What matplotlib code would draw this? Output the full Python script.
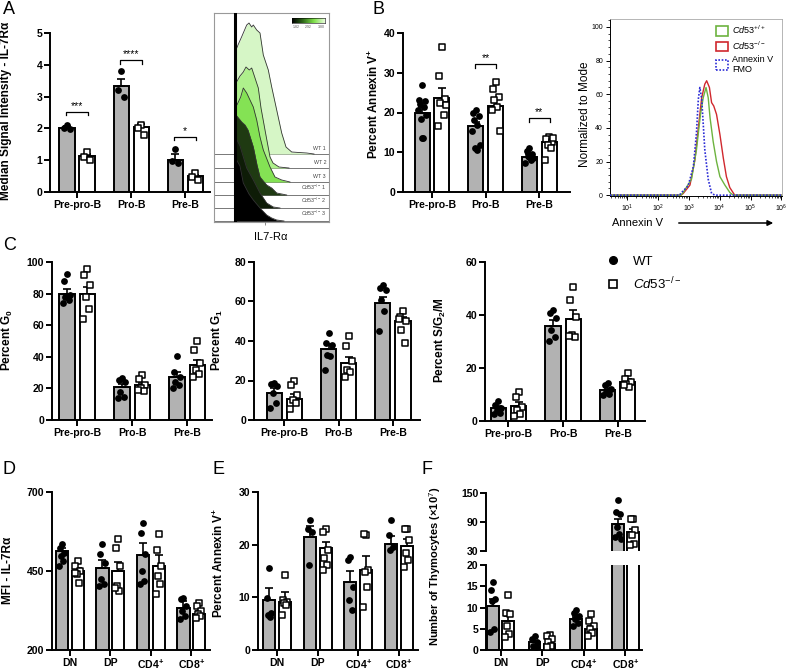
import matplotlib
matplotlib.use('Agg')
import matplotlib.pyplot as plt
import numpy as np
from matplotlib.lines import Line2D
from matplotlib.patches import Patch
from matplotlib.ticker import MultipleLocator, LogLocator, NullFormatter

plt.rcParams['font.family'] = ['Liberation Sans', 'DejaVu Sans']
plt.rcParams['mathtext.fontset'] = 'custom'
plt.rcParams['mathtext.rm'] = 'Liberation Sans'
plt.rcParams['mathtext.it'] = 'Liberation Sans:italic'
plt.rcParams['mathtext.bf'] = 'Liberation Sans:bold'

# ---------------- data ----------------
b_cells = ['Pre-pro-B', 'Pro-B', 'Pre-B']
t_cells = ['DN', 'DP', r'CD4$^{\mathbf{+}}$', r'CD8$^{\mathbf{+}}$']

# A: median signal intensity IL-7Ra
a_wt_mean = [2.02, 3.32, 1.02]
a_wt_sem = [0.04, 0.23, 0.19]
a_ko_mean = [1.13, 2.05, 0.49]
a_ko_sem = [0.07, 0.09, 0.06]
a_wt_pts = [[2.1, 2.0, 1.97], [3.82, 3.2, 3.0], [1.34, 0.97, 0.9]]
a_ko_pts = [[1.26, 1.1, 1.02], [2.1, 2.0, 1.79], [0.61, 0.47, 0.39]]
a_sig = [(0, '***', 2.53), (1, '****', 4.16), (2, '*', 1.74)]

# A: IL7-Ra histograms (x in channel units, heights)
h_names = ['WT 1', 'WT 2', 'WT 3', r'$\mathit{Cd53}^{-/-}$ 1', r'$\mathit{Cd53}^{-/-}$ 2', r'$\mathit{Cd53}^{-/-}$ 3']
h_colors = ['#d6f6c6', '#aef08c', '#84e254', '#1f3a12', '#0e1c07', '#000000']
h_x = [
    [21, 22, 24, 28, 32.7, 35, 37.7, 39.3, 42.7, 46, 49.3, 54.3, 57.7, 62.7, 67.7, 72, 77.7, 85, 92.7, 100],
    [21, 22, 26, 29.3, 32, 35.3, 37.7, 41, 44.3, 47, 51, 56, 59, 65, 75],
    [21, 22, 26.7, 29.3, 32.7, 36, 39.3, 42.7, 46, 49.3, 56, 61, 67.7, 76],
    [21, 22, 27.7, 31, 34, 39.3, 43, 46, 52.7, 57.7, 62.7, 72.7],
    [21, 22, 26, 32.7, 39.3, 46, 52.7, 59.3, 66],
    [21, 22, 26, 29.3, 35, 39.3, 46, 52.7, 57.7, 62.7, 70],
]
h_y = [
    [0, 104, 109, 118, 129, 131, 127, 129, 124, 121, 99, 84, 67, 44, 21, 7, 2, 1.5, 1, 0],
    [0, 85, 92, 96, 101, 98, 100, 90, 80, 60, 38, 11, 5, 1, 0],
    [0, 75, 85, 94, 89, 82, 75, 62, 45, 32, 15, 5, 2, 0],
    [0, 80, 73, 70, 65, 48, 30, 18, 10, 7, 2, 0],
    [0, 70, 62, 40, 28, 15, 5, 1, 0],
    [0, 62, 55, 38, 27, 21, 13, 6, 3, 1, 0],
]
h_base = [68, 54, 40, 27, 14, 1]

# B: percent Annexin V+
b_wt_mean = [19.9, 16.5, 8.8]
b_wt_sem = [1.6, 1.2, 0.7]
b_ko_mean = [23.6, 21.7, 12.5]
b_ko_sem = [2.5, 1.7, 0.8]
b_wt_pts = [[27, 23.2, 23, 22.2, 21.4, 20.7, 19.4, 18.4, 13.6, 13.6],
            [20.7, 19.9, 19, 18, 16.9, 15.3, 11.9, 11.1, 10.5],
            [11.1, 10.2, 9.6, 9, 8.1, 7.3, 8.5, 8.8]]
b_ko_pts = [[36.6, 29.3, 23.4, 22.4, 19.4, 16.7, 21.8],
            [27.6, 25.9, 23.8, 23.2, 21.5, 20.7, 15.3],
            [13.8, 13.3, 12.5, 11.9, 11.1, 8.0, 13.6]]
b_sig = [(1, '**', 32.2), (2, '**', 18.6)]

# B: Annexin V histograms (log10 fluorescence, normalized to mode)
an_fmo_x = [0.45, 2.7, 2.77, 2.98, 3.15, 3.25, 3.31, 3.36, 3.42, 3.52, 3.63, 3.74, 3.85, 6.1]
an_fmo_y = [0, 0, 1.6, 5.5, 17, 37, 57, 64, 57, 27, 9.5, 1, 0, 0]
an_wt_x = [0.45, 2.75, 2.82, 3.09, 3.25, 3.38, 3.47, 3.56, 3.63, 3.69, 3.79, 3.90, 4.01, 4.17, 4.33, 4.44, 6.1]
an_wt_y = [0, 0, 1.6, 9.5, 27, 48, 58, 64, 58, 46, 32, 20, 11, 6, 1.6, 0, 0]
an_ko_x = [0.45, 2.75, 2.82, 3.04, 3.20, 3.31, 3.42, 3.52, 3.58, 3.67, 3.74, 3.81, 3.90, 4.01, 4.12, 4.22, 4.33, 4.49, 6.1]
an_ko_y = [0, 0, 1, 6, 21, 40, 58, 66, 68, 64, 55, 53, 48, 36, 22, 11, 4.5, 0, 0]

# C: cell cycle
c_labels = [r'Percent G$_{\mathbf{0}}$', r'Percent G$_{\mathbf{1}}$', r'Percent S/G$_{\mathbf{2}}$/M']
c_wt_mean = [[79.6, 20.6, 27.0], [13.6, 36.1, 59.2], [4.8, 35.8, 11.8]]
c_wt_sem = [[3.6, 2.2, 3.3], [2.4, 2.6, 3.0], [0.8, 2.3, 0.8]]
c_ko_mean = [[80.0, 22.1, 34.7], [10.8, 28.9, 49.9], [5.7, 38.4, 14.7]]
c_ko_sem = [[4.2, 1.6, 3.4], [2.4, 3.2, 2.5], [1.5, 3.3, 1.0]]
c_wt_pts = [
    [[92.6, 87.8, 79.0, 77.9, 76.2, 74.1], [26.3, 25.3, 24.0, 17.9, 14.7, 13.7], [40.4, 30.5, 27.4, 24.2, 22.1, 20.0]],
    [[18.9, 18.0, 17.2, 13.5, 8.5, 6.0], [44.0, 39.0, 38.2, 33.1, 32.3, 25.2], [68.4, 66.7, 65.9, 60.8, 55.0, 45.2]],
    [[7.5, 6.0, 5.0, 4.0, 3.0, 2.5], [41.9, 40.9, 38.7, 34.3, 31.8, 30.3], [14.3, 13.4, 12.2, 10.9, 10.3, 10.0]],
]
c_ko_pts = [
    [[95.8, 91.6, 85.3, 77.9, 70.5, 64.2], [28.4, 25.7, 22.1, 20.0, 18.5, 19.0], [50.3, 44.0, 36.2, 31.6, 29.0, 27.4]],
    [[19.8, 17.5, 12.5, 10.0, 8.4, 5.8], [42.4, 37.3, 29.7, 25.5, 24.4, 21.8], [55.3, 52.4, 49.9, 45.7, 39.0, 51.0]],
    [[11.0, 9.2, 5.4, 4.0, 2.5, 2.0], [50.5, 45.7, 39.4, 32.4, 31.8, 32.0], [18.1, 15.9, 14.7, 14.1, 12.8, 13.5]],
]
c_ylim = [100, 80, 60]
c_step = [20, 20, 20]

# D: MFI IL-7Ra thymocytes
d_wt_mean = [513, 458, 500, 334]
d_wt_sem = [11, 28, 40, 22]
d_ko_mean = [450, 450, 466, 313]
d_ko_sem = [10, 28, 34, 10]
d_wt_pts = [[534, 524, 508, 497, 482, 466], [534, 503, 476, 424, 408, 403],
            [603, 571, 503, 450, 418, 408], [366, 361, 339, 324, 308, 297]]
d_ko_pts = [[482, 466, 450, 440, 413, 445], [550, 524, 466, 403, 387, 397],
            [566, 518, 466, 434, 408, 376], [350, 339, 324, 313, 308, 300]]

# E: percent Annexin V+ thymocytes
e_wt_mean = [9.5, 21.5, 13.0, 20.2]
e_wt_sem = [2.2, 2.0, 2.0, 1.5]
e_ko_mean = [9.2, 19.3, 15.2, 19.7]
e_ko_sem = [1.8, 1.2, 2.6, 1.3]
e_wt_pts = [[15.5, 9.8, 7.0, 6.6, 6.3], [24.7, 23.0, 22.5, 16.1],
            [17.7, 17.0, 12.0, 9.5, 7.6], [24.7, 21.8, 19.6, 19.0]]
e_ko_pts = [[14.2, 9.5, 9.2, 8.9, 8.5, 6.6], [23.0, 22.5, 19.0, 17.4, 16.1, 15.2],
            [21.8, 22.1, 15.2, 14.9, 12.0, 8.2], [23.0, 23.0, 20.9, 18.4, 17.1, 15.8]]

# F: number of thymocytes (x10^7)
f_wt_mean = [10.3, 1.8, 7.2, 86.5]
f_wt_sem = [1.8, 0.4, 0.6, 10.0]
f_ko_mean = [6.8, 1.4, 4.9, 69.0]
f_ko_sem = [1.2, 0.4, 0.8, 7.0]
f_wt_pts = [[16.1, 14.2, 11.9, 11.5, 4.9, 4.3], [3.3, 2.6, 1.8, 1.0, 0.6],
            [9.5, 8.8, 8.0, 7.2, 6.4, 5.7], [136, 110, 107, 80, 66, 59, 55]]
f_ko_pts = [[12.9, 8.8, 8.4, 5.7, 3.7, 3.0], [3.5, 3.2, 2.6, 1.8, 1.0, 0.6],
            [8.4, 6.8, 5.7, 4.9, 4.1, 3.3], [95.5, 95.5, 72.8, 62.4, 45.0, 41.7]]

# ---------------- figure ----------------
W, H = 789, 672
fig = plt.figure(figsize=(W / 100, H / 100), dpi=100)
spread = np.array([0, -0.055, 0.055, -0.03, 0.03, -0.075, 0.075, -0.015, 0.015, 0.0])
GRAY = '#b2b2b2'
TICK_FS = 7.6
LAB_FS = 8.5


def px_axes(x0, y0, x1, y1):
    return fig.add_axes([x0 / W, 1 - y1 / H, (x1 - x0) / W, (y1 - y0) / H])


def ftext(x, y, s, **kw):
    fig.text(x / W, 1 - y / H, s, **kw)


def bars(ax, wt_mean, wt_sem, ko_mean, ko_sem, wt_pts, ko_pts, off, width, base=0):
    x = np.arange(len(wt_mean))
    for sign, mean, sem, pts, face in [(-1, wt_mean, wt_sem, wt_pts, GRAY),
                                        (1, ko_mean, ko_sem, ko_pts, 'white')]:
        xs = x + sign * off
        mean = np.array(mean)
        ax.bar(xs, mean - base, width, bottom=base, color=face, edgecolor='black',
               linewidth=1.4, zorder=1)
        ax.errorbar(xs, mean, yerr=[np.zeros(len(sem)), sem], fmt='none', ecolor='black',
                    elinewidth=1.2, capsize=3, capthick=1.2, zorder=2)
        for i, p in enumerate(pts):
            jx = xs[i] + spread[:len(p)]
            if face == GRAY:
                ax.scatter(jx, p, s=24, c='black', marker='o', linewidths=0, zorder=3)
            else:
                ax.scatter(jx, p, s=24, marker='s', facecolors='white', edgecolors='black',
                           linewidths=1.1, zorder=3)


def style(ax, groups, ylim, yticks, xlim):
    for s in ['top', 'right']:
        ax.spines[s].set_visible(False)
    for s in ['left', 'bottom']:
        ax.spines[s].set_linewidth(1.4)
    ax.set_ylim(ylim)
    ax.set_yticks(yticks)
    ax.set_xlim(xlim)
    ax.set_xticks(range(len(groups)))
    ax.set_xticklabels(groups)
    ax.tick_params(width=1.4, length=4, labelsize=TICK_FS, pad=1.5)
    for lbl in ax.get_xticklabels() + ax.get_yticklabels():
        lbl.set_fontweight('bold')


def ylab(ax, text, box, xpx, ypx=None, fs=LAB_FS):
    x0, y0, x1, y1 = box
    if ypx is None:
        ypx = (y0 + y1) / 2
    ax.set_ylabel(text, fontsize=fs, fontweight='bold')
    ax.yaxis.set_label_coords((xpx - x0) / (x1 - x0), (y1 - ypx) / (y1 - y0))


def sig(ax, items, off, tick):
    for g, txt, y in items:
        ax.plot([g - off, g - off, g + off, g + off], [y - tick, y, y, y - tick],
                color='black', lw=0.9)
        ax.text(g, y + tick * 0.2, txt, ha='center', va='bottom', fontsize=7.5)


# ---- panel A bars ----
boxA = (50, 33, 210, 192)
axA = px_axes(*boxA)
bars(axA, a_wt_mean, a_wt_sem, a_ko_mean, a_ko_sem, a_wt_pts, a_ko_pts, 0.185, 0.28)
style(axA, b_cells, (0, 5), range(0, 6), (-0.5, 2.46))
sig(axA, a_sig, 0.2, 0.12)
ylab(axA, 'Median Signal Intensity - IL-7R\u03b1', boxA, 12, 111)

# ---- panel A histograms ----
boxAh = (214, 13, 329, 222)
axH = px_axes(*boxAh)
axH.set_xlim(0, 115)
axH.set_ylim(0, 209)
for b in h_base:
    axH.plot([0, 115], [b, b], color='#777777', lw=0.7, zorder=1)
for i in range(len(h_x)):
    xx = np.array(h_x[i])
    yy = np.array(h_y[i]) + h_base[i]
    axH.fill_between(xx, h_base[i], yy, color=h_colors[i], zorder=2 + i, lw=0)
    axH.plot(xx, yy, color='#333333', lw=0.6, zorder=2 + i)
    axH.text(112, h_base[i] + 3, h_names[i], ha='right', va='bottom', fontsize=3.8,
             color='#444444', zorder=10)
axH.plot([21, 21], [0, 209], color='black', lw=2.2, zorder=9)
axH.set_xticks([])
axH.set_yticks([])
for s in axH.spines.values():
    s.set_color('#999999')
    s.set_linewidth(0.8)
axT = axH.twiny()
axT.set_xscale('log')
axT.set_xlim(10 ** -0.3, 10 ** 4.9)
axT.xaxis.set_ticks_position('bottom')
axT.xaxis.set_major_locator(LogLocator(base=10))
axT.xaxis.set_minor_locator(LogLocator(base=10, subs=np.arange(2, 10)))
axT.xaxis.set_major_formatter(NullFormatter())
axT.xaxis.set_minor_formatter(NullFormatter())
axT.tick_params(which='major', length=2.5, width=0.6, color='#777777')
axT.tick_params(which='minor', length=1.5, width=0.5, color='#777777')
for s in axT.spines.values():
    s.set_visible(False)
axC = px_axes(292, 18, 325, 23)
axC.imshow(np.linspace(0, 1, 64)[None, :], aspect='auto',
           cmap=matplotlib.colors.LinearSegmentedColormap.from_list(
               'g', ['#000000', '#2f6a1a', '#7fe04a', '#e6fcd8']))
axC.set_xticks([])
axC.set_yticks([])
for s in axC.spines.values():
    s.set_linewidth(0.4)
for xp, t in zip([296, 308, 321], ['1.82', '2.92', '3.80']):
    ftext(xp, 28, t, fontsize=2.5, ha='center', color='#555555')
ftext(271, 237, 'IL7-R\u03b1', fontsize=8, ha='center', va='center')

# ---- panel B bars ----
boxB = (403, 33, 570, 192)
axB = px_axes(*boxB)
bars(axB, b_wt_mean, b_wt_sem, b_ko_mean, b_ko_sem, b_wt_pts, b_ko_pts, 0.185, 0.28)
style(axB, b_cells, (0, 40), range(0, 41, 10), (-0.54, 2.57))
sig(axB, b_sig, 0.2, 0.9)
ylab(axB, r'Percent Annexin V$^{\mathbf{+}}$', boxB, 381, 104)

# ---- panel B Annexin V histogram ----
boxBh = (610, 19, 782, 196)
axN = px_axes(*boxBh)
axN.set_xscale('log')
axN.set_xlim(10 ** 0.45, 10 ** 6.02)
axN.set_ylim(-0.5, 104.7)
axN.plot(10 ** np.array(an_wt_x), an_wt_y, color='#6db33f', lw=1.0, zorder=3)
axN.plot(10 ** np.array(an_ko_x), an_ko_y, color='#d0282e', lw=1.0, zorder=2)
axN.plot(10 ** np.array(an_fmo_x), an_fmo_y, color='#2b2bd6', lw=1.2, ls=(0, (1, 1)), zorder=4)
axN.set_yticks(range(0, 101, 20))
axN.yaxis.set_minor_locator(MultipleLocator(4))
axN.set_xticks([10 ** k for k in range(1, 7)])
axN.set_xticklabels([r'$10^{%d}$' % k for k in range(1, 7)])
axN.xaxis.set_minor_locator(LogLocator(base=10, subs=np.arange(2, 10)))
axN.xaxis.set_minor_formatter(NullFormatter())
axN.tick_params(which='major', labelsize=5, length=3, width=0.7, pad=2)
axN.tick_params(which='minor', length=1.5, width=0.5)
for s in ['top', 'right']:
    axN.spines[s].set_color('#aaaaaa')
    axN.spines[s].set_linewidth(0.6)
for s in ['left', 'bottom']:
    axN.spines[s].set_linewidth(0.7)
axN.set_ylabel('Normalized to Mode', fontsize=8.5)
axN.yaxis.set_label_coords((591 - 610) / 172, (196 - 114) / 177)
leg_h = [Patch(facecolor='none', edgecolor='#6db33f', lw=1.2),
         Patch(facecolor='none', edgecolor='#d0282e', lw=1.2),
         Patch(facecolor='none', edgecolor='#2b2bd6', lw=1.2, ls=(0, (1, 1)))]
axN.legend(leg_h, [r'$\mathit{Cd53}^{+/+}$', r'$\mathit{Cd53}^{-/-}$', 'Annexin V\nFMO'],
           loc='upper left', bbox_to_anchor=((712 - 610) / 172, (196 - 20) / 177),
           frameon=False, fontsize=6.5, handlelength=1.4, handleheight=1.3,
           handletextpad=0.4, labelspacing=0.35, borderaxespad=0)
ftext(612, 223, 'Annexin V', fontsize=8, va='center')
fig.add_artist(matplotlib.patches.FancyArrowPatch(
    (676 / W, 1 - 223 / H), (776 / W, 1 - 223 / H), transform=fig.transFigure,
    arrowstyle='-|>', mutation_scale=8, color='black', lw=1.1))

# ---- panel C ----
c_boxes = [(52, 262, 212, 420), (254, 262, 420, 420), (485, 262, 645, 421)]
c_xlims = [(-0.46, 2.45), (-0.56, 2.5), (-0.43, 2.5)]
c_labx = [15, 225, 448]
for k in range(3):
    ax = px_axes(*c_boxes[k])
    bars(ax, c_wt_mean[k], c_wt_sem[k], c_ko_mean[k], c_ko_sem[k],
         c_wt_pts[k], c_ko_pts[k], 0.185, 0.28)
    style(ax, b_cells, (0, c_ylim[k]), range(0, c_ylim[k] + 1, c_step[k]), c_xlims[k])
    ylab(ax, c_labels[k], c_boxes[k], c_labx[k], 340)

fig.legend([Line2D([], [], marker='o', ls='', color='black', markersize=5.5),
            Line2D([], [], marker='s', ls='', mfc='white', mec='black', markersize=6, mew=1.2)],
           ['WT', r'$\mathit{Cd53}^{-/-}$'], loc='upper left',
           bbox_to_anchor=(600 / W, 1 - 250 / H), frameon=False, fontsize=9.5,
           handletextpad=0.9, labelspacing=0.6, borderaxespad=0, handlelength=1.2)

# ---- panel D ----
boxD = (52, 492, 210, 650)
axD = px_axes(*boxD)
bars(axD, d_wt_mean, d_wt_sem, d_ko_mean, d_ko_sem, d_wt_pts, d_ko_pts, 0.195, 0.3, base=200)
style(axD, t_cells, (200, 700), [200, 450, 700], (-0.44, 3.46))
ylab(axD, 'MFI - IL-7R\u03b1', boxD, 14, 570)

# ---- panel E ----
boxE = (258, 492, 418, 650)
axE = px_axes(*boxE)
bars(axE, e_wt_mean, e_wt_sem, e_ko_mean, e_ko_sem, e_wt_pts, e_ko_pts, 0.195, 0.3)
style(axE, t_cells, (0, 30), range(0, 31, 10), (-0.47, 3.47))
ylab(axE, r'Percent Annexin V$^{\mathbf{+}}$', boxE, 226, 563)

# ---- panel F (broken axis) ----
boxFu = (486, 493, 642, 551)
boxFl = (486, 565, 642, 650)
axFu = px_axes(*boxFu)
axFl = px_axes(*boxFl)
for ax in (axFu, axFl):
    bars(ax, f_wt_mean, f_wt_sem, f_ko_mean, f_ko_sem, f_wt_pts, f_ko_pts, 0.18, 0.28)
style(axFl, t_cells, (0, 20), range(0, 21, 5), (-0.35, 3.4))
style(axFu, t_cells, (30, 150), [30, 90, 150], (-0.35, 3.4))
axFu.spines['bottom'].set_visible(False)
axFu.tick_params(axis='x', bottom=False, labelbottom=False)
axFl.set_ylabel('Number of Thymocytes (\u00d710$^{7}$)', fontsize=8, fontweight='bold')
axFl.yaxis.set_label_coords((443 - 486) / 156, (650 - 566) / 85)

# ---- panel letters ----
for x, y, t in [(3, 10, 'A'), (372, 10, 'B'), (3, 246, 'C'), (3, 470, 'D'), (213, 470, 'E'), (421, 470, 'F')]:
    ftext(x, y, t, fontsize=13, va='center', ha='left')

fig.savefig('out.png', dpi=100)
